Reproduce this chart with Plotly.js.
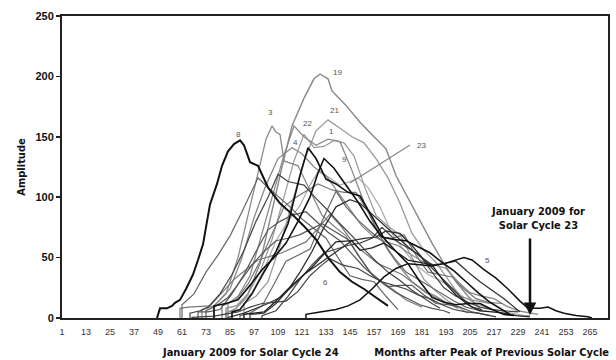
<!DOCTYPE html>
<html>
<head>
<meta charset="utf-8">
<script src="https://cdn.plot.ly/plotly-3.0.1.min.js"></script>
<style>
html,body{margin:0;padding:0;background:#fff;}
#chart{width:616px;height:360px;}
</style>
</head>
<body>
<div id="chart"></div>
<script>
// Months after peak of previous solar cycle, and smoothed sunspot amplitude
const c1 = [[60,0],[60,8],[64,9],[75,10],[87,32],[99,48],[111,54],[123,63],[130,76],[135,86],[141,75],[147,61],[159,45],[171,36],[183,21],[195,11]];
const c2 = [[61,0],[61,11],[67,20],[73,38],[79,52],[85,68],[91,88],[96,106],[99,116],[104,108],[109,101],[115,92],[121,82],[127,74],[133,66],[139,50],[145,35],[151,32],[157,30],[163,18],[169,7]];
const c3 = [[71,0],[71,7],[77,10],[83,20],[89,50],[95,92],[100,125],[103,148],[106,159],[108,154],[110,152],[112,130],[119,126],[125,105],[131,85],[137,76],[143,68],[149,52],[155,38],[161,30],[167,23],[173,15],[181,9]];
const c4 = [[77,0],[77,10],[85,24],[91,50],[97,83],[103,110],[109,132],[116,141],[121,136],[127,125],[133,118],[139,104],[145,90],[151,76],[157,67],[163,63],[169,60],[175,53],[181,47],[187,44],[193,41],[199,30],[205,21],[211,18],[217,16],[223,10],[229,6],[239,3]];
const c5 = [[123,0],[123,3],[130,5],[138,7],[144,10],[150,15],[156,24],[162,34],[168,41],[174,45],[180,44],[186,43],[192,45],[198,48],[202,50],[206,48],[212,40],[218,33],[224,24],[230,14],[234,8],[240,8],[244,9],[248,6],[252,4],[258,2],[264,1],[266,0]];
const c6 = [[66,0],[66,0.5],[77,1.5],[89,5],[95,9],[101,12],[107,13],[113,14],[119,22],[125,35],[131,44],[135,49],[141,44],[149,41],[155,35],[161,30],[167,27],[173,24],[179,19],[185,16],[191,11],[197,7],[203,5],[209,4],[218,1]];
const c7 = [[84,0],[84,0.5],[92,4],[98,8],[104,12],[110,17],[116,26],[122,36],[128,43],[134,50],[140,57],[146,64],[152,66],[158,67],[163,72],[170,70],[176,60],[182,48],[188,38],[194,28],[200,18],[206,9],[211,7]];
const c8 = [[48.5,0],[50,8],[53.5,8],[56,10],[57.5,12.5],[60,15],[63,24],[66.5,36],[69,48],[71.5,61],[75,94],[78.5,111],[81,126],[84,138],[87,144],[90,147],[92,143],[95,129],[99,126],[104,108],[110,95],[116,86],[122,76],[128,65],[134,50],[140,38],[146,30],[152,24],[158,17],[164,10]];
const c9 = [[77,0],[77,10],[83,12],[89,15],[95,27],[101,40],[107,50],[113,62],[119,80],[125,100],[129,120],[132,132],[137,124],[143,110],[149,96],[155,80],[161,67],[167,65],[173,64],[179,59],[185,54],[191,46],[197,39],[203,30],[209,21],[215,13],[221,7],[225,3]];
const c10 = [[95,0],[95,3],[102,4],[108,12],[114,23],[120,38],[126,55],[132,75],[138,92],[145,98],[150,95],[156,86],[162,77],[168,68],[174,59],[180,51],[186,44],[192,45],[198,47],[204,38],[210,30],[216,23],[222,16],[230,5]];
const c11 = [[86,0],[86,5],[90,7],[96,20],[102,38],[108,55],[114,78],[120,118],[124,141],[128,132],[133,115],[138,111],[144,104],[150,101],[156,84],[162,66],[168,55],[174,45],[180,30],[186,17],[192,13],[198,11],[204,12],[210,12],[216,7],[222,3],[227,2]];
const c12 = [[101,0],[101,2],[108,6],[114,18],[120,32],[126,44],[132,54],[138,57],[144,60],[150,62],[156,66],[161,75],[168,64],[174,58],[180,52],[186,38],[192,25],[198,18],[204,13],[210,9],[216,7],[222,6],[229,5]];
const c13 = [[69,0],[69,5],[74,5],[80,7],[86,20],[92,36],[98,55],[104,73],[110,80],[116,85],[123,88],[128,80],[134,71],[140,64],[146,53],[152,42],[158,33],[164,26],[170,27],[176,27],[182,19],[188,12],[194,11],[200,9],[206,5],[212,3],[215,2]];
const c14 = [[92,0],[92,3],[102,5],[108,14],[114,24],[120,33],[126,42],[132,53],[138,63],[146,64],[150,56],[156,58],[162,62],[168,55],[174,48],[180,46],[186,44],[192,30],[198,19],[204,11],[210,6],[216,5],[222,4],[228,2],[235,1]];
const c15 = [[90,0],[90,2],[95,4],[101,10],[107,28],[113,47],[119,52],[125,57],[131,80],[138,105],[143,92],[149,81],[155,72],[161,64],[167,50],[173,38],[179,32],[185,26],[191,20],[197,14],[203,9],[210,6]];
const c16 = [[73,0],[73,6],[78,10],[84,17],[90,30],[96,44],[102,55],[108,64],[114,66],[120,69],[126,74],[131,78],[137,72],[144,65],[150,50],[156,36],[162,28],[168,21],[174,16],[180,11],[186,8],[192,6],[195,4]];
const c17 = [[65,0],[65,4],[70,6],[74,9],[80,20],[86,36],[92,56],[98,80],[104,100],[109,119],[114,113],[122,110],[128,99],[134,89],[140,78],[146,68],[152,57],[158,47],[164,38],[170,31],[176,23],[182,16],[186,12],[190,8]];
const c18 = [[83,0],[83,8],[88,10],[94,20],[100,38],[106,65],[112,100],[117,130],[122,152],[127,141],[132,142],[137,147],[142,145],[147,134],[152,110],[158,85],[164,76],[170,69],[176,50],[182,32],[188,22],[194,14],[200,8],[204,4]];
const c19 = [[83,0],[83,4],[88,8],[94,20],[100,45],[106,90],[111,125],[116,159],[122,182],[127,198],[130,202],[134,198],[136,188],[143,176],[150,162],[157,150],[163,140],[168,118],[175,96],[180,80],[186,62],[192,45],[198,30],[204,18],[210,8]];
const c20 = [[81,0],[81,10],[88,15],[94,28],[100,47],[106,70],[112,92],[118,100],[124,106],[129,111],[136,106],[142,104],[148,104],[154,88],[160,67],[166,66],[172,69],[178,52],[184,38],[190,36],[196,34],[202,24],[208,16],[214,13],[221,12]];
const c21 = [[92,0],[92,12],[98,18],[104,30],[110,60],[116,95],[122,130],[128,155],[134,164],[140,157],[146,150],[152,145],[158,132],[164,116],[170,95],[176,70],[182,56],[188,46],[194,32],[200,18],[206,15],[212,13],[215,12]];
const c22 = [[84,0],[84,12],[89,18],[95,35],[101,70],[107,105],[112,135],[117,159],[122,150],[128,143],[134,148],[140,146],[146,122],[152,96],[158,75],[164,56],[170,42],[176,30],[182,23],[188,18],[194,12],[199,8]];
const c23 = [[83,0],[83,8],[90,11],[96,21],[102,40],[108,64],[114,80],[120,93],[125,110],[129,121],[134,117],[140,110],[145,113],[149,116],[154,108],[160,92],[166,70],[172,56],[178,44],[184,36],[190,31],[196,25],[202,17],[208,12],[214,8],[220,6],[226,4],[232,2],[235,2]];

const cycles = [c1,c2,c3,c4,c5,c6,c7,c8,c9,c10,c11,c12,c13,c14,c15,c16,c17,c18,c19,c20,c21,c22,c23];
const cycleColors = ['#777','#666','#8a8a8a','#8a8a8a','#111','#444','#333','#111','#111','#333','#111','#444','#555','#222','#666','#555','#444','#999','#888','#777','#9a9a9a','#8a8a8a','#aaa'];
const cycleWidths = [1.2,1.2,1.3,1.3,1.5,1.2,1.3,2.0,1.6,1.3,1.6,1.2,1.2,1.3,1.2,1.2,1.2,1.2,1.4,1.2,1.3,1.3,1.2];

const xTicks = [1,13,25,37,49,61,73,85,97,109,121,133,145,157,169,181,193,205,217,229,241,253,265];
const yTicks = [0,50,100,150,200,250];

const cycleLabels = ['8','3','22','4','19','21','1','9','23','6','5'];
const labelMonth = [89,105,123.5,117.5,138.5,137,135.5,142,180.5,132.5,213.5];
const labelAmp = [151.5,170,161.4,144.9,203.6,171.4,154.8,130.8,142.4,29.8,48];

const traces = cycles.map((c,i)=>({
  type:'scatter', mode:'lines',
  x: c.map(p=>p[0]), y: c.map(p=>p[1]),
  line:{color:cycleColors[i], width:cycleWidths[i]},
  name:'Cycle '+(i+1), showlegend:false, hoverinfo:'skip'
}));

// draw the darker cycles on top of the lighter ones
traces.sort((a,b)=>{
  const lum = c => parseInt(c.line.color.slice(1,2),16);
  return lum(b)-lum(a);
});

const annotations = cycleLabels.map((t,i)=>({
  x: labelMonth[i], y: labelAmp[i], xref:'x', yref:'y', text:t, showarrow:false,
  font:{family:'Liberation Sans, Arial, sans-serif', size:8, color:'#555'}
}));

const boldFont = {family:'Liberation Sans Narrow, DejaVu Sans Condensed, Arial Narrow, Liberation Sans, sans-serif', size:11, color:'#111', weight:'bold'};

annotations.push({
  x:235, y:2.5, xref:'x', yref:'y', ax:0, ay:-78, axref:'pixel', ayref:'pixel',
  showarrow:true, arrowhead:2, arrowsize:1, arrowwidth:2.5, arrowcolor:'#111', text:''
});
annotations.push({
  x:239, y:82, xref:'x', yref:'y', showarrow:false,
  text:'January 2009 for<br>Solar Cycle 23', align:'center', font:boldFont
});
annotations.push({
  x:104, y:-8.5, xref:'x', yref:'y', ax:0, ay:22, showarrow:true,
  arrowhead:2, arrowsize:1, arrowwidth:2, arrowcolor:'#111', text:''
});
annotations.push({
  x:0.346, y:-0.113, xref:'paper', yref:'paper', showarrow:false,
  text:'January 2009 for Solar Cycle 24', font:boldFont, xanchor:'center', yanchor:'middle'
});

const layout = {
  width:616, height:360,
  margin:{l:62, r:8, t:16, b:42},
  paper_bgcolor:'#fff', plot_bgcolor:'#fff',
  showlegend:false,
  xaxis:{
    range:[1,274], tickvals:xTicks, ticktext:xTicks.map(String),
    showgrid:false, zeroline:false, showline:true, linecolor:'#222', linewidth:2, mirror:true,
    ticks:'', ticklabelstandoff:4,
    tickfont:{family:'Liberation Sans, Arial, sans-serif', size:9, color:'#333'},
    title:{text:'Months after Peak of Previous Solar Cycle', font:boldFont, standoff:0},
    automargin:false
  },
  yaxis:{
    range:[0,250], tickvals:yTicks, showgrid:false, zeroline:false,
    showline:true, linecolor:'#222', linewidth:2, mirror:true,
    ticks:'outside', ticklen:4, tickwidth:1.5, tickcolor:'#222',
    tickfont:{family:'Liberation Sans, Arial, sans-serif', size:11, color:'#111', weight:'bold'},
    title:{text:'Amplitude', font:boldFont, standoff:8},
    automargin:false
  },
  annotations:annotations,
  shapes:[{
    type:'line', xref:'x', yref:'y', x0:145, y0:111.8, x1:175, y1:143.2,
    line:{color:'#888', width:1.2}
  }]
};

Plotly.newPlot('chart', traces, layout, {staticPlot:true, displayModeBar:false}).then(()=>{
  // place the x-axis title at the right, as in the original
  const t = document.querySelector('.g-xtitle text');
  if (t) { t.setAttribute('text-anchor','end'); t.setAttribute('x', 609); t.setAttribute('y', 353); }
});
</script>
</body>
</html>
